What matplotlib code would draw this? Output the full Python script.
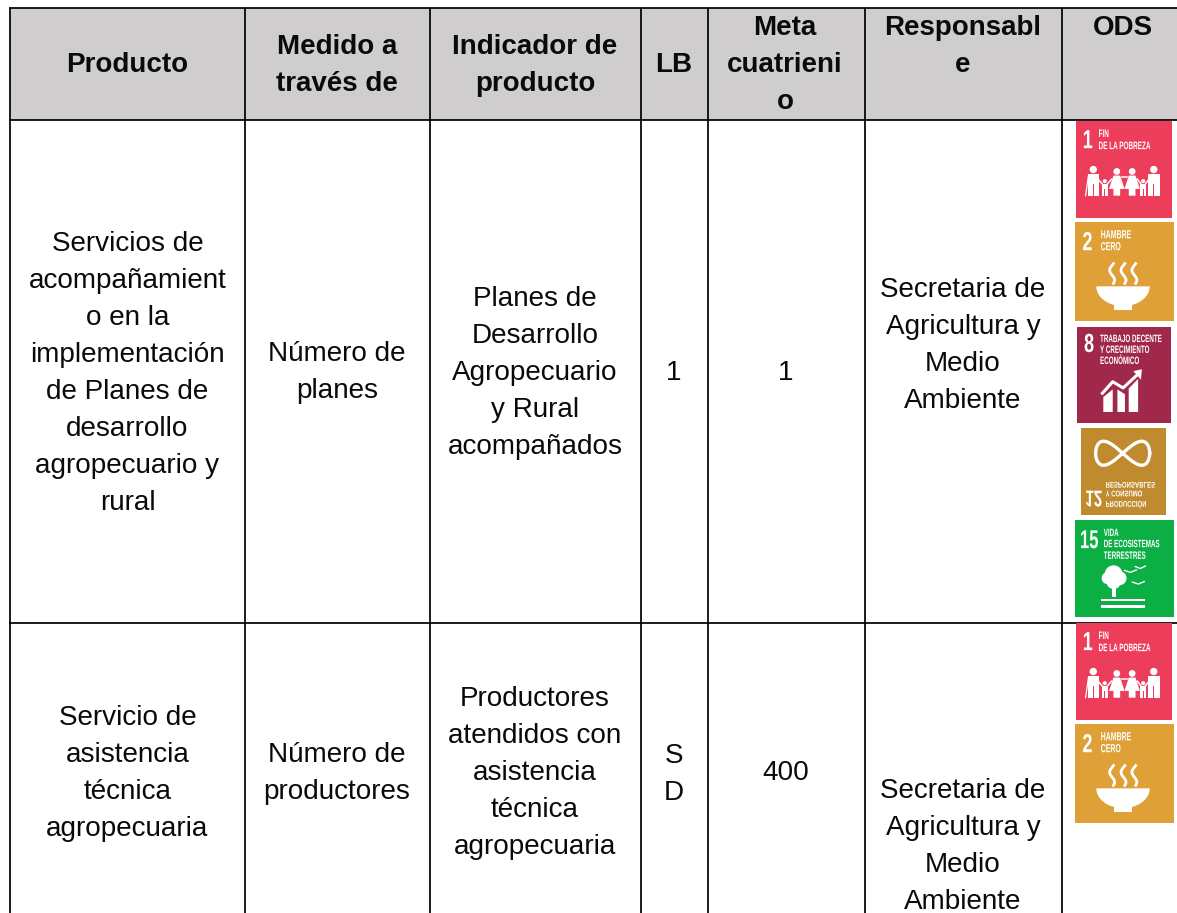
import numpy as np
import matplotlib
matplotlib.use("Agg")
import matplotlib.pyplot as plt
from matplotlib.patches import Rectangle, Circle, Polygon
from matplotlib.patheffects import AbstractPathEffect
from matplotlib.transforms import Affine2D

plt.rcParams['font.family'] = ['Liberation Sans', 'DejaVu Sans']

# column borders and row borders, pixels of the page
col_lines = [10, 245, 430, 641, 708, 865, 1062]
row_lines = [8, 120, 623]

# (text lines, centre x, y of first line)
header_cells = [
    (["Producto"], 127, 62),
    (["Medido a", "través de"], 337, 44),
    (["Indicador de", "producto"], 535, 44),
    (["LB"], 674, 62),
    (["Meta", "cuatrieni", "o"], 785, 25),
    (["Responsabl", "e"], 963, 25),
    (["ODS"], 1123, 25),
]
row1_cells = [
    (["Servicios de", "acompañamient", "o en la", "implementación", "de Planes de",
      "desarrollo", "agropecuario y", "rural"], 127.5, 241),
    (["Número de", "planes"], 337, 351),
    (["Planes de", "Desarrollo", "Agropecuario", "y Rural", "acompañados"], 535, 296),
    (["1"], 674, 370),
    (["1"], 786, 370),
    (["Secretaria de", "Agricultura y", "Medio", "Ambiente"], 963, 287),
]
row2_cells = [
    (["Servicio de", "asistencia", "técnica", "agropecuaria"], 127.5, 715),
    (["Número de", "productores"], 337, 752),
    (["Productores", "atendidos con", "asistencia", "técnica", "agropecuaria"], 535, 696),
    (["S", "D"], 674, 753),
    (["400"], 786, 770),
    (["Secretaria de", "Agricultura y", "Medio", "Ambiente"], 963, 788),
]

# icon boxes x0, x1, y0, y1
box_1a = (1076, 1172, 121, 218)
box_2a = (1075, 1174, 222, 321)
box_8 = (1077, 1171, 327, 423)
box_12 = (1081, 1166, 428, 515)
box_15 = (1075, 1174, 520, 617)
box_1b = (1076, 1172, 623, 720)
box_2b = (1075, 1174, 724, 823)

RED = "#EC3E5A"
YELLOW = "#DFA037"
MAROON = "#A0284B"
OCHRE = "#BF8B2E"
GREEN = "#0CAF44"


class StretchY(AbstractPathEffect):
    # the icons use a tall condensed face, negative sy mirrors the glyphs
    def __init__(self, sy):
        super().__init__()
        self.sy = sy

    def draw_path(self, renderer, gc, tpath, affine, rgbFace=None):
        renderer.draw_path(gc, tpath, Affine2D().scale(1, self.sy) + affine, rgbFace)


fig = plt.figure(figsize=(11.77, 9.13), dpi=100)
ax = fig.add_axes([0, 0, 1, 1])
ax.set_xlim(0, 1177)
ax.set_ylim(913, 0)
ax.axis("off")

ax.add_patch(Rectangle((10, 8), 1167, 112, fc="#CFCDCE", ec="none", zorder=0))
for x in col_lines:
    ax.plot([x, x], [8, 913], color="black", lw=1.25, zorder=2, solid_capstyle="butt")
for y in row_lines:
    ax.plot([9, 1177], [y, y], color="black", lw=1.25, zorder=2, solid_capstyle="butt")


def cell(lines, cx, y0, bold=False):
    for i, s in enumerate(lines):
        ax.text(cx, y0 + i * 37 + 10, s, ha="center", va="baseline", fontsize=20 if bold else 20.1,
                color="#0a0a0a", fontweight="bold" if bold else "normal", zorder=3)


for c in header_cells:
    cell(*c, bold=True)
for c in row1_cells + row2_cells:
    cell(*c)


def icon(box, color):
    x0, x1, y0, y1 = box
    ax.add_patch(Rectangle((x0, y0), x1 - x0, y1 - y0, fc=color, ec="none", zorder=4))
    return lambda fx, fy: (x0 + fx * (x1 - x0), y0 + fy * (y1 - y0))


def label(u, fx, fy, s, size=4.6, sy=1.7):
    x, y = u(fx, fy)
    ax.text(x, y, s, color="white", fontsize=size, fontweight="bold", ha="left", va="baseline",
            zorder=5, path_effects=[StretchY(sy)])


def poly(u, pts, color="white"):
    ax.add_patch(Polygon([u(*p) for p in pts], closed=True, fc=color, ec="none", zorder=5))


def stroke(u, pts, lw):
    p = [u(*q) for q in pts]
    ax.plot([a for a, b in p], [b for a, b in p], color="white", lw=lw, zorder=5)


def person(u, fx, top, bottom, half, color, dress=False):
    h = bottom - top
    ax.add_patch(Circle(u(fx, top), h * 13.5, fc="white", ec="none", zorder=5))
    t = top + h * 0.17
    if dress:
        poly(u, [(fx - half * 0.5, t), (fx + half * 0.5, t), (fx + half * 1.15, top + h * 0.72),
                 (fx + half * 0.5, top + h * 0.72), (fx + half * 0.5, bottom),
                 (fx - half * 0.5, bottom), (fx - half * 0.5, top + h * 0.72),
                 (fx - half * 1.15, top + h * 0.72)])
    else:
        poly(u, [(fx - half, t), (fx + half, t), (fx + half, bottom), (fx - half, bottom)])
        poly(u, [(fx - 0.007, top + h * 0.55), (fx + 0.007, top + h * 0.55),
                 (fx + 0.007, bottom), (fx - 0.007, bottom)], color)


def icon_pobreza(box):
    u = icon(box, RED)
    label(u, 0.07, 0.28, "1", size=13, sy=1.45)
    label(u, 0.235, 0.165, "FIN")
    label(u, 0.235, 0.29, "DE LA POBREZA")
    for fx, half, top, dress in [(0.18, 0.06, 0.50, False), (0.30, 0.032, 0.62, False),
                                 (0.425, 0.07, 0.52, True), (0.585, 0.07, 0.52, True),
                                 (0.70, 0.032, 0.62, False), (0.81, 0.06, 0.50, False)]:
        person(u, fx, top, 0.77, half, RED, dress)
    for a, b in [((0.23, 0.60), (0.30, 0.68)), ((0.30, 0.68), (0.37, 0.60)),
                 ((0.64, 0.60), (0.70, 0.68)), ((0.70, 0.68), (0.76, 0.60)),
                 ((0.48, 0.58), (0.53, 0.58))]:
        stroke(u, [a, b], 1.1)
    stroke(u, [(0.13, 0.56), (0.10, 0.77)], 0.9)


def icon_hambre(box):
    u = icon(box, YELLOW)
    label(u, 0.075, 0.285, "2", size=13, sy=1.45)
    label(u, 0.26, 0.165, "HAMBRE", size=5)
    label(u, 0.26, 0.285, "CERO", size=5)
    t = np.linspace(0, 1, 25)
    for fx in (0.375, 0.49, 0.60):
        stroke(u, [(fx + 0.025 * np.sin(v * 2 * np.pi + 2.6), 0.42 + v * 0.2) for v in t], 2)
    v = np.linspace(0, np.pi, 30)
    rim = [(0.485 - 0.27 * np.cos(a), 0.65 + 0.2 * np.sin(a)) for a in v]
    poly(u, [(0.215, 0.65)] + rim + [(0.755, 0.65)])
    poly(u, [(0.39, 0.82), (0.58, 0.82), (0.58, 0.885), (0.39, 0.885)])


def icon_trabajo(box):
    u = icon(box, MAROON)
    label(u, 0.075, 0.26, "8", size=13, sy=1.45)
    label(u, 0.245, 0.156, "TRABAJO DECENTE", size=4.5)
    label(u, 0.245, 0.27, "Y CRECIMIENTO", size=4.5)
    label(u, 0.245, 0.385, "ECONÓMICO", size=4.5)
    poly(u, [(0.28, 0.73), (0.38, 0.65), (0.38, 0.885), (0.28, 0.885)])
    poly(u, [(0.43, 0.65), (0.51, 0.70), (0.51, 0.885), (0.43, 0.885)])
    poly(u, [(0.55, 0.64), (0.65, 0.54), (0.65, 0.885), (0.55, 0.885)])
    stroke(u, [(0.27, 0.69), (0.38, 0.57), (0.49, 0.635), (0.65, 0.49)], 2.2)
    poly(u, [(0.60, 0.46), (0.69, 0.44), (0.68, 0.55)])


def icon_produccion(box):
    u = icon(box, OCHRE)
    a = np.linspace(0, 2 * np.pi, 120)
    cx, cy = u(0.49, 0.29)
    ax.plot(cx + 27 * np.cos(a), cy + 12 * np.sin(2 * a), color="white", lw=2.4, zorder=5)
    # this icon is mirrored top to bottom in the reference
    label(u, 0.29, 0.62, "RESPONSABLES", size=4.3, sy=-1.4)
    label(u, 0.29, 0.72, "Y CONSUMO", size=4.3, sy=-1.4)
    label(u, 0.29, 0.84, "PRODUCCIÓN", size=4.3, sy=-1.4)
    label(u, 0.05, 0.72, "12", size=11, sy=-1.5)


def icon_vida(box):
    u = icon(box, GREEN)
    label(u, 0.05, 0.29, "15", size=12, sy=1.55)
    label(u, 0.29, 0.165, "VIDA", size=4.5)
    label(u, 0.29, 0.28, "DE ECOSISTEMAS", size=4.5)
    label(u, 0.29, 0.40, "TERRESTRES", size=4.5)
    for fx, fy, r in [(0.39, 0.56, 9), (0.33, 0.60, 6), (0.45, 0.60, 7), (0.39, 0.64, 7)]:
        ax.add_patch(Circle(u(fx, fy), r, fc="white", ec="none", zorder=5))
    poly(u, [(0.375, 0.66), (0.415, 0.66), (0.415, 0.79), (0.375, 0.79)])
    poly(u, [(0.26, 0.81), (0.71, 0.81), (0.71, 0.84), (0.26, 0.84)])
    poly(u, [(0.26, 0.88), (0.71, 0.88), (0.71, 0.91), (0.26, 0.91)])
    for fx, fy, w in [(0.56, 0.53, 0.06), (0.66, 0.49, 0.05), (0.64, 0.65, 0.06)]:
        stroke(u, [(fx - w, fy - 0.01), (fx, fy + 0.01), (fx + w, fy - 0.015)], 1.0)


icon_pobreza(box_1a)
icon_hambre(box_2a)
icon_trabajo(box_8)
icon_produccion(box_12)
icon_vida(box_15)
icon_pobreza(box_1b)
icon_hambre(box_2b)

fig.savefig("out.png", dpi=100, facecolor="white")
